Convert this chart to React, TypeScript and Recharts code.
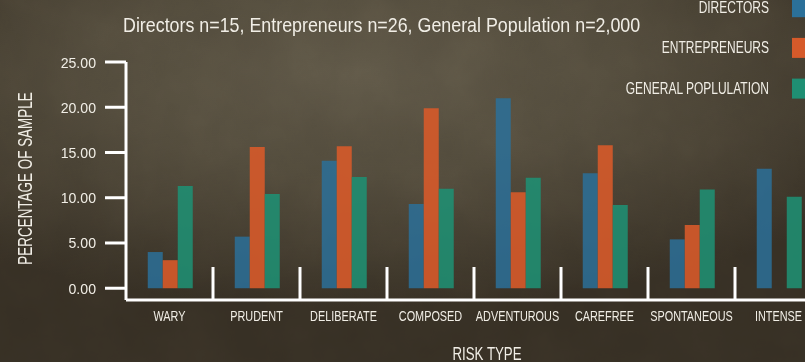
import React from 'react';
import { BarChart, Bar, XAxis, YAxis, Label } from 'recharts';

const categories = ['WARY', 'PRUDENT', 'DELIBERATE', 'COMPOSED', 'ADVENTUROUS', 'CAREFREE', 'SPONTANEOUS', 'INTENSE'];
const directors = [4.0, 5.7, 14.1, 9.3, 21.0, 12.7, 5.4, 13.2];
const entrepreneurs = [3.1, 15.6, 15.7, 19.9, 10.6, 15.8, 7.0, 0];
const generalPopulation = [11.3, 10.4, 12.3, 11.0, 12.2, 9.2, 10.9, 10.1];
const yTicks = [0, 5, 10, 15, 20, 25];

const seriesNames = ['DIRECTORS', 'ENTREPRENEURS', 'GENERAL POPLULATION'];
const seriesColors = ['#2b7099', '#d65a2a', '#1f8f73'];
const subtitle = 'Directors n=15, Entrepreneurs n=26, General Population n=2,000';

const FONT = "'Liberation Sans', Arial, sans-serif";
const INK = '#f1eee6';
const CHART_W = 830;
const CHART_H = 362;
const LEFT = 126;
const RIGHT = 8;
const BAND = (CHART_W - LEFT - RIGHT) / categories.length;

const data = categories.map((name, i) => ({
  name,
  directors: directors[i],
  entrepreneurs: entrepreneurs[i],
  general: generalPopulation[i],
}));

// the original uses a condensed grotesque, so squeeze Liberation Sans horizontally
const Narrow = ({ x, y, size, squeeze, anchor = 'middle', rotate = 0, children }: any) => (
  <g transform={`translate(${x},${y}) rotate(${rotate}) scale(${squeeze},1)`}>
    <text x={0} y={0} textAnchor={anchor} fill={INK} fontSize={size} fontFamily={FONT}>
      {children}
    </text>
  </g>
);

// category label + white divider on the right edge of each band
const RiskTick = (props: any) => {
  const { x, y, payload } = props;
  const edge = x + BAND / 2;
  return (
    <g>
      <line x1={edge} x2={edge} y1={y - 33} y2={y} stroke="#fff" strokeWidth={3} />
      <Narrow x={x} y={y + 21} size={14.7} squeeze={0.74}>
        {payload.value}
      </Narrow>
    </g>
  );
};

const ValueTick = (props: any) => {
  const { x, y, payload } = props;
  return (
    <Narrow x={x} y={y + 5.5} size={15.2} squeeze={0.93} anchor="end">
      {payload.value.toFixed(2)}
    </Narrow>
  );
};

export default function App() {
  return (
    <div
      style={{
        position: 'absolute',
        left: 0,
        top: 0,
        width: 805,
        height: 362,
        overflow: 'hidden',
        background:
          'radial-gradient(ellipse 75% 65% at 45% 20%, #5d5646 0%, #514a3b 45%, #433c2f 75%, #362f24 100%)',
      }}
    >
      <svg width={805} height={362} style={{ position: 'absolute', left: 0, top: 0 }}>
        <filter id="grain">
          <feTurbulence type="fractalNoise" baseFrequency="0.018" numOctaves={5} seed={7} />
          <feColorMatrix type="saturate" values="0" />
        </filter>
        <rect width={805} height={362} filter="url(#grain)" opacity={0.16} style={{ mixBlendMode: 'overlay' }} />
      </svg>
      <svg width={805} height={362} style={{ position: 'absolute', left: 0, top: 0 }}>
        <Narrow x={123} y={32.3} size={20.4} squeeze={0.875} anchor="start">
          {subtitle}
        </Narrow>
        {seriesNames.map((name, i) => {
          const base = 12.7 + 40.7 * i;
          return (
            <g key={name}>
              <Narrow x={769} y={base} size={16} squeeze={0.75} anchor="end">
                {name}
              </Narrow>
              <rect x={792} y={base - 15.5} width={18} height={20} fill={seriesColors[i]} />
            </g>
          );
        })}
      </svg>
      <div style={{ position: 'absolute', left: 0, top: 0 }}>
        <BarChart
          width={CHART_W}
          height={CHART_H}
          data={data}
          margin={{ top: 62, right: RIGHT, bottom: 0, left: 0 }}
          barCategoryGap="25%"
          barGap={0}
        >
          <XAxis
            dataKey="name"
            height={62}
            interval={0}
            tickSize={0}
            tickMargin={0}
            tickLine={false}
            axisLine={{ stroke: '#fff', strokeWidth: 3 }}
            tick={<RiskTick />}
          >
            <Label
              content={() => (
                <Narrow x={487} y={359.5} size={17.5} squeeze={0.76}>
                  RISK TYPE
                </Narrow>
              )}
            />
          </XAxis>
          <YAxis
            width={LEFT}
            domain={[-1.3, 25]}
            allowDataOverflow
            ticks={yTicks}
            interval={0}
            tickSize={21}
            tickMargin={9}
            tick={<ValueTick />}
            tickLine={{ stroke: '#fff', strokeWidth: 3 }}
            axisLine={{ stroke: '#fff', strokeWidth: 3 }}
          >
            <Label
              content={() => (
                <Narrow x={31.7} y={178.5} size={19.5} squeeze={0.69} rotate={-90}>
                  PERCENTAGE OF SAMPLE
                </Narrow>
              )}
            />
          </YAxis>
          <Bar dataKey="directors" name={seriesNames[0]} fill={seriesColors[0]} fillOpacity={0.85} isAnimationActive={false} />
          <Bar dataKey="entrepreneurs" name={seriesNames[1]} fill={seriesColors[1]} fillOpacity={0.9} isAnimationActive={false} />
          <Bar dataKey="general" name={seriesNames[2]} fill={seriesColors[2]} fillOpacity={0.88} isAnimationActive={false} />
        </BarChart>
      </div>
    </div>
  );
}
